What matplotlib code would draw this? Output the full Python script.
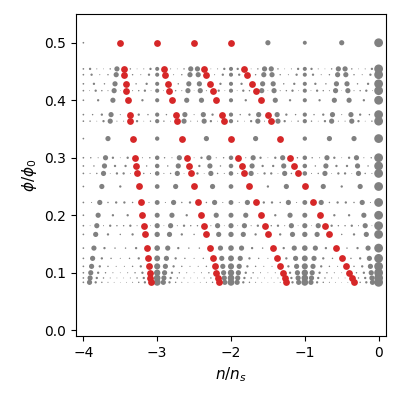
import matplotlib
matplotlib.use("Agg")
import matplotlib.pyplot as plt

# flux values phi/phi0 = p/q
flux_p = [1, 5, 4, 3, 5, 2, 3, 4, 1, 3, 2, 3, 1, 2, 1, 2, 1, 1, 1, 1, 1, 1, 1]
flux_q = [2, 11, 9, 7, 12, 5, 8, 11, 3, 10, 7, 11, 4, 9, 5, 11, 6, 7, 8, 9, 10, 11, 12]
# highlighted gap lines n/ns = s + t*phi
red_s = [-3, -2, -1, 0]
red_t = [-1, -2, -3, -4]

gx, gy, gs, rx, ry = [], [], [], [], []
for p, q in zip(flux_p, flux_q):
    phi = p / q
    for m in range(0, 4 * q + 1):
        best = None
        for t in range(-q, q + 1):
            if (-m - t * p) % q == 0:
                if best is None or abs(t) < abs(best):
                    best = t
        t = best
        s = (-m - t * p) // q
        x = -m / q
        isred = any(abs(x - (rs + rt * phi)) < 1e-9 for rs, rt in zip(red_s, red_t))
        if isred:
            rx.append(x); ry.append(phi)
            continue
        if t == 0:
            if s == 0:
                area = 40
            elif s == -4:
                area = 1.5
            else:
                area = min(32, 5 + 1.6 / phi)
        else:
            area = 14 / abs(t) ** 2.3
        gx.append(x); gy.append(phi); gs.append(area)

fig = plt.figure(figsize=(4, 4), dpi=100)
ax = fig.add_axes([0.19, 0.16, 0.775, 0.805])
ax.scatter(gx, gy, s=gs, color="gray", linewidths=0, zorder=2)
ax.scatter(rx, ry, s=24, color="#d62728", linewidths=0, zorder=3)
ax.set_xlim(-4.1, 0.1)
ax.set_ylim(-0.01, 0.55)
ax.set_xticks([-4, -3, -2, -1, 0])
ax.set_yticks([0.0, 0.1, 0.2, 0.3, 0.4, 0.5])
ax.set_xlabel("$n/n_s$", fontsize=11)
ax.set_ylabel(r"$\phi/\phi_0$", fontsize=11)
fig.savefig("out.png")
